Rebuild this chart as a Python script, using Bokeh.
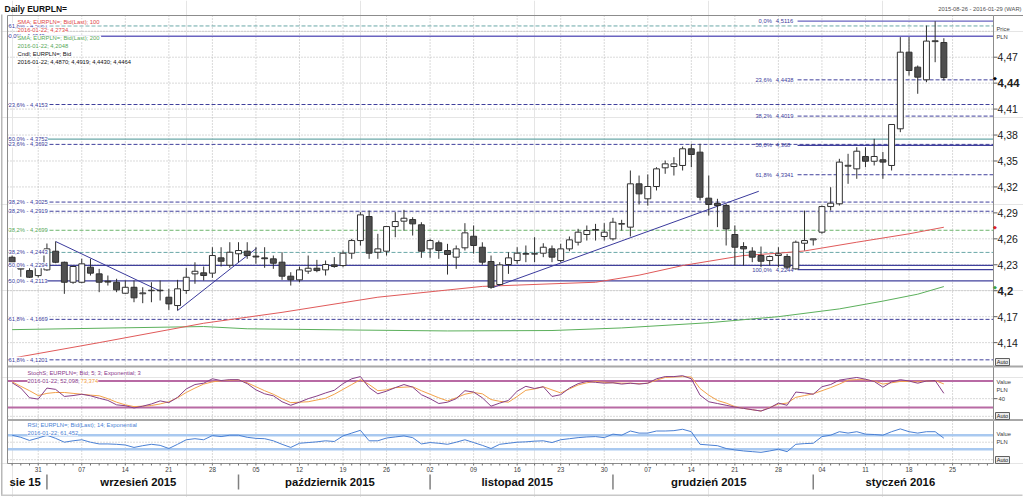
import datetime as dt
from bokeh.plotting import figure
from bokeh.models import Range1d, Label, ColumnDataSource
from bokeh.embed import file_html
from bokeh.resources import INLINE

# ------------------------------------------------------------------ data
first_day, last_day = dt.date(2015, 8, 26), dt.date(2016, 1, 29)

opens = [4.2387, 4.2270, 4.2233, 4.2175, 4.2241, 4.2457, 4.2329, 4.2098, 4.2098, 4.2272,
         4.2195, 4.2110, 4.2098, 4.1971, 4.2040, 4.1965, 4.2000, 4.2006, 4.1925, 4.1829,
         4.2003, 4.2195, 4.2207, 4.2203, 4.2380, 4.2295, 4.2427, 4.2457, 4.2400, 4.2380,
         4.2369, 4.2330, 4.2168, 4.2126, 4.2226, 4.2260, 4.2241, 4.2299, 4.2291, 4.2434,
         4.2580, 4.2858, 4.2445, 4.2457, 4.2742, 4.2804, 4.2823, 4.2762, 4.2484, 4.2554,
         4.2465, 4.2388, 4.2496, 4.2630, 4.2503, 4.2338, 4.2072, 4.2303, 4.2349, 4.2422,
         4.2424, 4.2434, 4.2484, 4.2349, 4.2484, 4.2561, 4.2650, 4.2700, 4.2627, 4.2600,
         4.2770, 4.2735, 4.3236, 4.3063, 4.3205, 4.3421, 4.3436, 4.3448, 4.3641, 4.3602,
         4.3070, 4.3010, 4.2985, 4.2650, 4.2511, 4.2457, 4.2407, 4.2349, 4.2407, 4.2396,
         4.2253, 4.2549, 4.2588, 4.2677, 4.2973, 4.3005, 4.3440, 4.3409, 4.3552, 4.3497,
         4.3514, 4.3448, 4.3872, 4.4758, 4.4585, 4.4439, 4.4880, 4.4870]
highs = [4.2450, 4.2310, 4.2291, 4.2329, 4.2546, 4.2569, 4.2337, 4.2291, 4.2370, 4.2369,
         4.2253, 4.2176, 4.2138, 4.2118, 4.2118, 4.2040, 4.2098, 4.2118, 4.2022, 4.2126,
         4.2264, 4.2329, 4.2280, 4.2503, 4.2503, 4.2561, 4.2561, 4.2561, 4.2503, 4.2503,
         4.2407, 4.2445, 4.2214, 4.2280, 4.2407, 4.2357, 4.2349, 4.2388, 4.2465, 4.2600,
         4.2908, 4.2927, 4.2658, 4.2742, 4.2908, 4.2935, 4.2850, 4.2792, 4.2600, 4.2580,
         4.2542, 4.2523, 4.2781, 4.2754, 4.2560, 4.2407, 4.2330, 4.2445, 4.2503, 4.2523,
         4.2619, 4.2549, 4.2523, 4.2542, 4.2627, 4.2716, 4.2754, 4.2773, 4.2781, 4.2843,
         4.2820, 4.3390, 4.3332, 4.3344, 4.3428, 4.3505, 4.3544, 4.3667, 4.3699, 4.3699,
         4.3332, 4.3063, 4.3005, 4.2754, 4.2561, 4.2503, 4.2511, 4.2407, 4.2503, 4.2426,
         4.2580, 4.2927, 4.2600, 4.2985, 4.3197, 4.3525, 4.3583, 4.3659, 4.3659, 4.3756,
         4.3603, 4.3922, 4.4932, 4.4932, 4.4604, 4.5066, 4.5116, 4.4919]
lows = [4.2280, 4.2160, 4.2118, 4.2153, 4.2230, 4.2318, 4.1964, 4.2080, 4.2087, 4.2176,
        4.1983, 4.2060, 4.1983, 4.1964, 4.1867, 4.1856, 4.1867, 4.1887, 4.1779, 4.1771,
        4.1964, 4.2080, 4.2118, 4.2149, 4.2280, 4.2265, 4.2330, 4.2369, 4.2311, 4.2265,
        4.2253, 4.2126, 4.2060, 4.2098, 4.2195, 4.2214, 4.2176, 4.2265, 4.2272, 4.2369,
        4.2522, 4.2369, 4.2369, 4.2407, 4.2619, 4.2696, 4.2638, 4.2380, 4.2380, 4.2369,
        4.2187, 4.2253, 4.2465, 4.2430, 4.2300, 4.2022, 4.2060, 4.2195, 4.2311, 4.2330,
        4.2330, 4.2388, 4.2330, 4.2330, 4.2457, 4.2523, 4.2580, 4.2580, 4.2580, 4.2580,
        4.2696, 4.2627, 4.2997, 4.2985, 4.3159, 4.3352, 4.3332, 4.3390, 4.3428, 4.3043,
        4.2869, 4.2735, 4.2523, 4.2291, 4.2291, 4.2330, 4.2272, 4.2291, 4.2272, 4.2250,
        4.2244, 4.2465, 4.2523, 4.2658, 4.2927, 4.2985, 4.3236, 4.3294, 4.3428, 4.3448,
        4.3294, 4.3390, 4.3833, 4.4488, 4.4277, 4.4411, 4.4642, 4.4430]
closes = [4.2329, 4.2250, 4.2156, 4.2291, 4.2484, 4.2329, 4.2098, 4.2280, 4.2311, 4.2203,
          4.2098, 4.2100, 4.2010, 4.2040, 4.1918, 4.1975, 4.2006, 4.2000, 4.1848, 4.2022,
          4.2156, 4.2225, 4.2176, 4.2407, 4.2341, 4.2445, 4.2465, 4.2407, 4.2390, 4.2370,
          4.2318, 4.2168, 4.2126, 4.2241, 4.2260, 4.2233, 4.2303, 4.2280, 4.2434, 4.2580,
          4.2877, 4.2434, 4.2484, 4.2742, 4.2800, 4.2838, 4.2773, 4.2457, 4.2580, 4.2465,
          4.2419, 4.2484, 4.2669, 4.2523, 4.2330, 4.2040, 4.2299, 4.2380, 4.2434, 4.2430,
          4.2428, 4.2503, 4.2388, 4.2484, 4.2588, 4.2677, 4.2696, 4.2708, 4.2677, 4.2792,
          4.2776, 4.3236, 4.3120, 4.3205, 4.3409, 4.3467, 4.3467, 4.3641, 4.3575, 4.3081,
          4.2997, 4.2985, 4.2715, 4.2503, 4.2484, 4.2388, 4.2341, 4.2396, 4.2426, 4.2272,
          4.2561, 4.2580, 4.2600, 4.2973, 4.3012, 4.3487, 4.3450, 4.3613, 4.3497, 4.3552,
          4.3487, 4.3922, 4.4758, 4.4546, 4.4469, 4.4886, 4.4890, 4.4464]

sma100_idx = [0, 10, 22, 31, 42, 54, 62, 67, 72, 77, 84, 88, 91, 97, 103, 107]
sma100_val = [4.1220, 4.1400, 4.1624, 4.1750, 4.1925, 4.2050, 4.2080, 4.2098, 4.2180,
              4.2291, 4.2407, 4.2434, 4.2460, 4.2561, 4.2658, 4.2734]
sma200_idx = [0, 22, 27, 40, 50, 62, 70, 80, 88, 95, 100, 104, 107]
sma200_val = [4.1550, 4.1586, 4.1560, 4.1545, 4.1535, 4.1540, 4.1570, 4.1630, 4.1700,
              4.1790, 4.1880, 4.1960, 4.2048]

stoch_k = [76, 64, 42, 39, 64, 61, 45, 47, 50, 46.5,
           41, 36, 26, 24, 19, 23, 28, 35, 31, 43,
           62, 72, 75, 85, 81, 83, 83, 74, 60, 51,
           46.5, 33, 25, 32, 40, 46, 53, 59, 74, 85,
           90, 65, 51, 57, 65, 72, 66, 49, 40, 29,
           32, 40, 58, 55, 42, 23, 30, 36, 57, 68,
           63, 67, 45, 49, 64, 74, 79, 77, 75, 76,
           73, 75, 73, 75, 85, 90, 90, 92, 85, 48,
           33, 29, 25, 21, 18, 15, 12, 19, 30, 25,
           55, 53, 50, 67, 72, 82, 85, 88, 84, 79,
           66, 78, 83, 80, 75, 80, 81, 52.098]
stoch_d = [78, 68, 58, 47, 52, 54, 54, 52, 50, 48,
           46.5, 40, 32, 26, 22, 23, 24.5, 28, 33, 42,
           54, 64, 73, 78, 80.5, 82, 82.5, 76, 67, 58,
           50, 40, 31, 32, 33, 37, 41, 50, 61, 72,
           83, 72, 58, 60, 65, 66, 67, 58, 50, 42,
           35, 42, 50, 54, 51, 38, 34, 32, 45, 59,
           62, 67, 60, 53, 62, 71, 76, 79, 77, 76,
           75, 75, 74, 75, 82, 88, 89, 90, 89, 63,
           48, 36, 30, 22, 18, 15, 12, 20, 27.7, 30,
           43, 47, 51, 58, 65, 73, 82, 83, 82.7, 80,
           73, 76, 79, 79, 78, 80, 81, 73.374]
rsi = [70, 64, 55, 62, 70, 61, 50, 54, 57, 50,
       45, 45, 44, 42, 35, 40, 44, 41, 32, 44,
       57, 60, 57, 69, 66, 70, 70, 64, 61, 60,
       54, 44, 35, 47, 49, 51, 54, 52, 68, 76,
       84, 54, 54, 62, 65, 68, 63, 45, 49, 47,
       44, 50, 57, 49, 41, 32, 44, 47, 50, 51,
       53, 54, 49, 57, 60, 63, 65, 66, 63, 73,
       70, 82, 76, 76, 82, 82, 83, 87, 80, 44,
       42, 40, 32, 28, 25, 23, 21, 25, 30, 23,
       44, 46, 47, 66, 70, 80, 76, 80, 73, 72,
       70, 80, 88, 80, 76, 80, 80, 61.452]
stoch_levels = [80, 20]
rsi_levels = [70, 30]

trend_i0 = [5, 19, 55.3]
trend_v0 = [4.2569, 4.1771, 4.2040]
trend_i1 = [17.04, 28.07, 85.75]
trend_v1 = [4.1994, 4.2491, 4.3150]

fib_set = ["C", "C", "C", "B", "B", "B", "B", "B", "A", "A", "A", "A", "D"]
fib_pct = ["61,8%", "50,0%", "38,2%", "0,0%", "23,6%", "38,2%", "50,0%", "61,8%",
           "23,6%", "38,2%", "50,0%", "61,8%", "38,2%"]
fib_val = [4.5061, 4.3752, 4.2443, 4.4942, 4.3692, 4.2919, 4.2294, 4.1669,
           4.4153, 4.3025, 4.2113, 4.1201, 4.2699]
fibr_anchor = 90
fibr_pct = ["0,0%", "23,6%", "38,2%", "50,0%", "61,8%", "100,0%"]
fibr_val = [4.5116, 4.4438, 4.4019, 4.368, 4.3341, 4.2244]

price_ticks = [4.14, 4.17, 4.20, 4.23, 4.26, 4.29, 4.32, 4.35, 4.38, 4.41, 4.44, 4.47]
price_grid = price_ticks + [4.50]
bold_ticks = [4.20, 4.44]
stoch_grid = [0, 40, 80]
stoch_ticks = [40]
rsi_grid = [0, 50]
month_names = {8: "sie 15", 9: "wrzesień 2015", 10: "październik 2015",
               11: "listopad 2015", 12: "grudzień 2015", 1: "styczeń 2016"}

# ------------------------------------------------------------------ layout
FONT = "Liberation Sans"
SMALL = "5.8px"
W, H = 1023, 497
FL, FR, FT, FB = 7, 993, 15, 463          # chart frame edges (canvas px)
MAIN_BOTTOM = 366
SEP2 = 419.5
DAY_X0, DAY_DX = 11.6, 8.708              # centre of first day, spacing
NAVY = "#40409c"
GRID = "#b4b4b4"

dates = []
d = first_day
while d <= last_day:
    if d.weekday() < 5:
        dates.append(d)
    d += dt.timedelta(days=1)
n_days = len(dates)
idx = list(range(len(opens)))
mondays = [i for i, dd in enumerate(dates) if dd.weekday() == 0]
I_LEFT = (FL - DAY_X0) / DAY_DX
I_RIGHT = (FR - DAY_X0) / DAY_DX


def comma(v, nd=4):
    return f"{v:.{nd}f}".replace(".", ",")


def lin_range(v1, y1, v2, y2):
    """range whose values v1,v2 fall on canvas rows y1,y2 (whole canvas is the frame)"""
    k = (v2 - v1) / (y2 - y1)
    return Range1d(start=v1 + (H - y1) * k, end=v1 + (0 - y1) * k)


x_range = Range1d((0 - DAY_X0) / DAY_DX, (W - DAY_X0) / DAY_DX)
main_range = lin_range(4.5182, FT, 4.1124, MAIN_BOTTOM)
stoch_range = lin_range(80, 380.5, 20, 407.0)
rsi_range = lin_range(70, 434.7, 30, 448.7)

p = figure(width=W, height=H, x_range=x_range, y_range=main_range, title=None,
           min_border=0, toolbar_location=None, output_backend="svg",
           x_axis_location=None, y_axis_location=None,
           background_fill_color="white", border_fill_color="white",
           outline_line_color=None)
p.extra_y_ranges = {"stoch": stoch_range, "rsi": rsi_range, "py": Range1d(H, 0)}
p.extra_x_ranges = {"px": Range1d(0, W)}


def label(x, y, text, color="#000000", size=SMALL, bold=False, align="left",
          xr="px", yr="py", bg=None, **kw):
    lab = Label(x=x, y=y, text=text, x_range_name=xr, y_range_name=yr,
                text_font=FONT, text_font_size=size, text_color=color,
                text_align=align, text_baseline="middle",
                text_font_style="bold" if bold else "normal", **kw)
    if bg:
        lab.background_fill_color = bg
    p.add_layout(lab)


def hlines(vals, yname, color=GRID, dash="1 2", width=1, x0=FL, x1=FR):
    n = len(vals)
    p.segment(x0=[x0] * n, y0=vals, x1=[x1] * n, y1=vals, x_range_name="px",
              y_range_name=yname, line_color=color, line_dash=dash, line_width=width)


# grids
p.segment(x0=mondays, y0=[FT] * len(mondays), x1=mondays, y1=[FB] * len(mondays),
          y_range_name="py", line_color=GRID, line_dash="1 2")
hlines(price_grid, "default")
hlines(stoch_grid, "stoch")
hlines(rsi_grid, "rsi")

# fibonacci lines
set_color = {"A": NAVY, "B": NAVY, "C": "#6aa8a8", "D": "#6cb46c"}
for s, pc, v in zip(fib_set, fib_pct, fib_val):
    solid = pc in ("0,0%", "50,0%")
    col = "#6a64c0" if pc == "0,0%" else set_color[s]
    p.segment(x0=[I_LEFT], y0=[v], x1=[I_RIGHT], y1=[v], line_color=col,
              line_width=1.3 if solid else 1, line_dash="solid" if solid else "4 2")
for pc, v in zip(fibr_pct, fibr_val):
    solid = pc in ("0,0%", "100,0%", "50,0%")
    col = "#6a64c0" if pc == "0,0%" else NAVY
    p.segment(x0=[fibr_anchor + 0.2], y0=[v], x1=[I_RIGHT], y1=[v], line_color=col,
              line_width=1.3 if solid else 1, line_dash="solid" if solid else "4 2")

# moving averages and trend lines
p.line(sma200_idx, sma200_val, line_color="#5cb05c", line_width=1)
p.line(sma100_idx, sma100_val, line_color="#e05a5a", line_width=1)
p.segment(x0=trend_i0, y0=trend_v0, x1=trend_i1, y1=trend_v1, line_color="#3a3a9c", line_width=1)

# candles
src = ColumnDataSource(dict(
    i=idx, h=highs, l=lows,
    top=[max(o, c) for o, c in zip(opens, closes)],
    bot=[min(o, c) for o, c in zip(opens, closes)],
    fill=["white" if c >= o else "#4f4f4f" for o, c in zip(opens, closes)]))
p.segment("i", "h", "i", "l", source=src, line_color="#303030", line_width=1)
p.vbar(x="i", width=0.68, top="top", bottom="bot", fill_color="fill",
       line_color="#303030", line_width=1, source=src)

# stochastic panel
hlines(stoch_levels, "stoch", color="#b86aa4", dash="solid", width=2)
p.line(idx, stoch_d, y_range_name="stoch", line_color="#f3a24a", line_width=1)
p.line(idx, stoch_k, y_range_name="stoch", line_color="#884088", line_width=1)

# rsi panel
hlines(rsi_levels, "rsi", color="#a9c9f0", dash="solid", width=2.5)
p.line(idx, rsi, y_range_name="rsi", line_color="#4a80d4", line_width=1)

# frame, separators, price ticks, day ticks, outer edges
p.quad(left=[FL], right=[FR], top=[FT], bottom=[FB], x_range_name="px", y_range_name="py",
       fill_alpha=0, line_color="#8c8c8c", line_width=1)
p.quad(left=[FL, FL], right=[W, W], top=[MAIN_BOTTOM - 1, SEP2 - 1],
       bottom=[MAIN_BOTTOM + 1, SEP2 + 1], x_range_name="px", y_range_name="py",
       fill_color="#a8a8a8", line_color=None)
p.segment(x0=[FR], y0=[FT], x1=[W], y1=[FT], x_range_name="px", y_range_name="py",
          line_color="#8c8c8c")
hlines(price_ticks, "default", color="#606060", dash="solid", x0=FR, x1=FR + 4)
hlines(stoch_ticks, "stoch", color="#606060", dash="solid", x0=FR, x1=FR + 4)
all_days = list(range(n_days))
p.segment(x0=all_days, y0=[FB] * n_days, x1=all_days, y1=[FB + 2] * n_days,
          y_range_name="py", line_color="#707070")
p.quad(left=[0.5], right=[2], top=[14], bottom=[H - 2], x_range_name="px", y_range_name="py",
       fill_color="#b8b8b8", line_color=None)
p.quad(left=[0.5], right=[W - 1], top=[H - 3], bottom=[H - 1.5], x_range_name="px",
       y_range_name="py", fill_color="#c8c8c8", line_color=None)

# "Auto" boxes of the three value scales
auto_y = [361.5, 415.5, 459.5]
p.quad(left=[FR + 2] * 3, right=[FR + 16] * 3, top=[y - 3.5 for y in auto_y],
       bottom=[y + 3.5 for y in auto_y], x_range_name="px", y_range_name="py",
       fill_color="#ececec", line_color="#606060", line_width=1)
for yy in auto_y:
    label(FR + 9, yy, "Auto", color="#202020", size="5.5px", align="center")

# fibonacci labels
for s, pc, v in zip(fib_set, fib_pct, fib_val):
    label(8, v, f"{pc} - {comma(v)}", color="#58a858" if s == "D" else NAVY,
          yr="default", bg="white")
for pc, v in zip(fibr_pct, fibr_val):
    label(fibr_anchor, v, pc, color=NAVY, xr="default", yr="default", align="right",
          x_offset=-24)
    label(fibr_anchor, v, comma(v, 4 if len(f"{v}") > 5 else 3), color=NAVY,
          xr="default", yr="default", x_offset=-20)

# legends
last = dates[len(opens) - 1].isoformat()
leg = [("SMA; EURPLN=; Bid(Last);  100", "#e04848"),
       (f"{last}; {comma(sma100_val[-1])}", "#e04848"),
       ("SMA; EURPLN=; Bid(Last);  200", "#58a858"),
       (f"{last}; {comma(sma200_val[-1])}", "#58a858"),
       ("Cndl; EURPLN=; Bid", "#101010"),
       (f"{last}; {comma(opens[-1])}; {comma(highs[-1])}; {comma(lows[-1])}; {comma(closes[-1])}",
        "#101010")]
for k, (t, c) in enumerate(leg):
    label(17, 21.8 + k * 8, t, color=c, bg="white")

label(27, 372.7, "StochS; EURPLN=; Bid;  5; 3; Exponential; 3", color="#8a3a8a")
label(27, 380.5, f"{last}; {comma(stoch_k[-1], 3)}; ", color="#8a3a8a", bg="white")
label(80, 380.5, comma(stoch_d[-1], 3), color="#f09a40", bg="white")
label(27, 424.5, "RSI; EURPLN=; Bid(Last);  14; Exponential", color="#4a80d4")
label(27, 432.2, f"{last}; {comma(rsi[-1], 3)}", color="#4a80d4", bg="white")

# right-hand labels
for t in price_ticks:
    txt = f"{t:.2f}".rstrip("0").replace(".", ",")
    bold = t in bold_ticks
    label(FR + 4, t, txt, color="#202020", size="11.3px" if bold else "10.5px", bold=bold,
          yr="default")
label(FR + 3, 28, "Price", color="#404040")
label(FR + 3, 36, "PLN", color="#404040")
label(FR + 3, 381, "Value", color="#404040")
label(FR + 3, 389, "PLN", color="#404040")
for t in stoch_ticks:
    label(FR + 5, t, str(t), color="#404040", yr="stoch")
label(FR + 3, 433.5, "Value", color="#404040")
label(FR + 3, 441.5, "PLN", color="#404040")
for v, c in ((closes[-1], "#000000"), (sma100_val[-1], "#e02020"), (sma200_val[-1], "#40a040")):
    label(FR + 1, v, "◆", color=c, size="5px", yr="default", align="center")

# titles
label(4, 8, "Daily EURPLN=", color="#101010", size="8.5px", bold=True)
label(W - 2, 8, f"{first_day.isoformat()} - {last_day.isoformat()} (WAR)",
      color="#505050", size=SMALL, align="right")

# day labels
for i in mondays:
    label(i, 468.5, dates[i].strftime("%d"), color="#404040", size="6.3px",
          xr="default", align="center")

# month labels and separators (separator at each month's first trading day)
months = []
for i, dd in enumerate(dates):
    if not months or months[-1][0] != dd.month:
        months.append([dd.month, i, i])
    else:
        months[-1][2] = i
seps = [a for (m, a, b) in months[1:]]
p.segment(x0=seps, y0=[474] * len(seps), x1=seps, y1=[489] * len(seps),
          y_range_name="py", line_color="#808080", line_width=1.5)
for k, (m, a, b) in enumerate(months):
    centre = (max(a, I_LEFT) + min(b, I_RIGHT)) / 2
    label(centre, 481, month_names[m], color="#101010", size="11.3px", bold=True,
          xr="default", align="center")

open("out.html", "w").write(file_html(p, INLINE))
